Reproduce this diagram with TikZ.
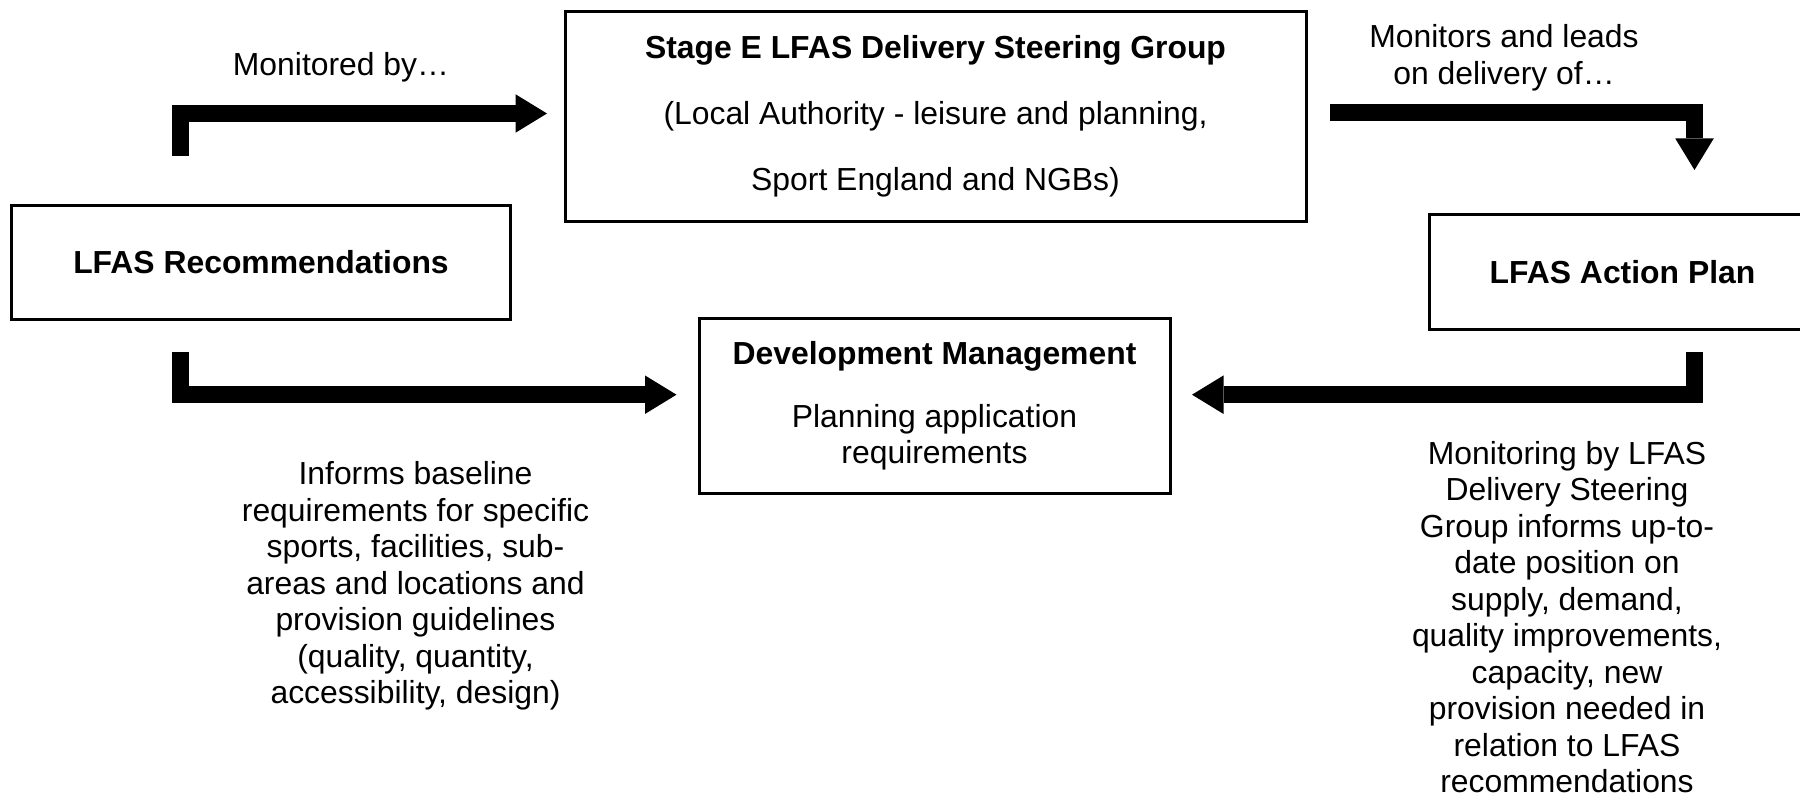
\documentclass[tikz,border=0pt]{standalone}
\usepackage{fontspec}
\setmainfont{Liberation Sans}
\usetikzlibrary{arrows.meta}
\begin{document}
\begin{tikzpicture}[x=0.4pt,y=-0.4pt,
  txt/.style={font=\fontsize{12.75}{14.6}\selectfont},
  box/.style={txt,draw=black,line width=1.2pt,inner sep=0pt,align=center},
  lbl/.style={txt,align=center,inner sep=0pt},
  bigarrow/.style={line width=6.8pt,line cap=butt,line join=miter,
    -{Triangle[width=15.4pt,length=12.6pt,line width=0pt]}}
]
\useasboundingbox (0,0) rectangle (1800,799);

% boxes
\node[box,minimum width=199.2pt,minimum height=45.6pt] (rec) at (261,262.5)
  {\bfseries LFAS Recommendations};
\node[box,minimum width=296.4pt,minimum height=83.8pt] (stage) at (935.5,116.25)
  {\bfseries Stage E LFAS Delivery Steering Group\\[11.8pt]
   (Local Authority - leisure and planning,\\[11.8pt]
   Sport England and NGBs)};
\node[box,minimum width=188.4pt,minimum height=70pt] (dev) at (934.5,406)
  {\bfseries Development Management\\[10.6pt]
   Planning application\\ requirements};
\node[box,minimum width=154.8pt,minimum height=45.6pt] (plan) at (1622.5,272)
  {\bfseries LFAS Action Plan};

% labels
\node[lbl] (lmon) at (341,67) {Monitored by…};
\node[lbl] (llead) at (1504,58) {Monitors and leads\\on delivery of…};
\node[lbl] (linf) at (415.5,586) {Informs baseline\\requirements for specific\\sports, facilities, sub-\\areas and locations and\\provision guidelines\\(quality, quantity,\\accessibility, design)};
\node[lbl] (lmonit) at (1567,617) {Monitoring by LFAS\\Delivery Steering\\Group informs up-to-\\date position on\\supply, demand,\\quality improvements,\\capacity, new\\provision needed in\\relation to LFAS\\recommendations};

% arrow end points
\coordinate (s1) at (180,156);
\coordinate (e1) at (547,113.5);
\coordinate (s2) at (1330,112.5);
\coordinate (e2) at (1694.5,170);
\coordinate (s3) at (180,352);
\coordinate (e3) at (676.5,394.7);
\coordinate (s4) at (1694,352);
\coordinate (e4) at (1192,394.7);

\draw[bigarrow] (s1) |- (e1);
\draw[bigarrow] (s2) -| (e2);
\draw[bigarrow] (s3) |- (e3);
\draw[bigarrow] (s4) |- (e4);
\end{tikzpicture}
\end{document}
